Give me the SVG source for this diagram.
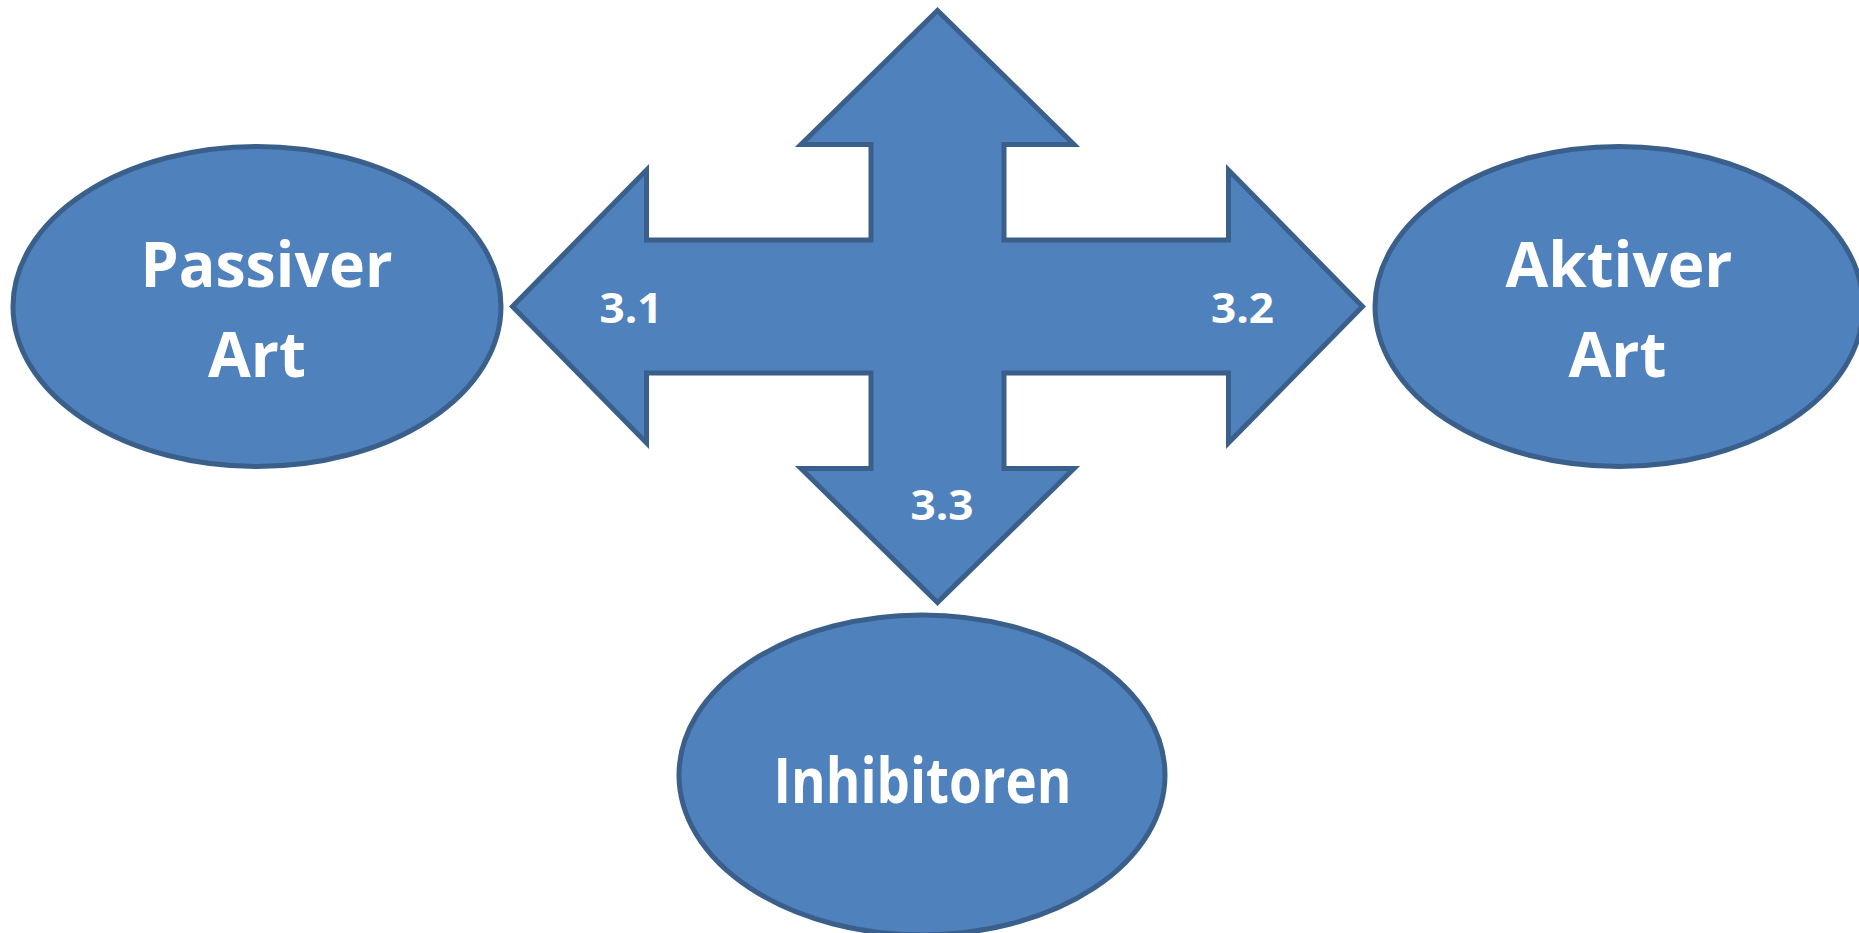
<svg xmlns="http://www.w3.org/2000/svg" width="1859" height="933" viewBox="0 0 1859 933">
  <style>
    .shape { fill: #4F81BD; stroke: #3A5F8B; stroke-width: 5; stroke-linejoin: miter; }
    .big { font-family: "Open Sans", "Noto Sans", "Liberation Sans", sans-serif; font-weight: bold; font-size: 62px; fill: #FFFFFF; }
    .num { font-family: "Open Sans", "Noto Sans", "Liberation Sans", sans-serif; font-weight: bold; font-size: 42px; fill: #FFFFFF; }
  </style>
  <rect width="1859" height="933" fill="#FFFFFF"/>
  <g id="connectors">
    <path class="shape" d="M937.5,10.5 L1074,144.5 L1004,144.5 L1004,240 L1228.5,240 L1228.5,170 L1362.5,306.5 L1228.5,443 L1228.5,373 L1004,373 L1004,468.5 L1074,468.5 L937.5,602.5 L801,468.5 L871,468.5 L871,373 L646.5,373 L646.5,443 L512.5,306.5 L646.5,170 L646.5,240 L871,240 L871,144.5 L801,144.5 Z"/>
    <text class="num" x="599.5" y="323" textLength="63" lengthAdjust="spacingAndGlyphs">3.1</text>
    <text class="num" x="1211" y="323" textLength="63" lengthAdjust="spacingAndGlyphs">3.2</text>
    <text class="num" x="910.5" y="520" textLength="63" lengthAdjust="spacingAndGlyphs">3.3</text>
  </g>
  <g id="node-passiver">
    <ellipse class="shape" cx="257" cy="306.5" rx="244" ry="160"/>
    <text class="big" x="140.5" y="286.7" textLength="252" lengthAdjust="spacingAndGlyphs">Passiver</text>
    <text class="big" x="208" y="376.7" textLength="98" lengthAdjust="spacingAndGlyphs">Art</text>
  </g>
  <g id="node-aktiver">
    <ellipse class="shape" cx="1619" cy="306.5" rx="244" ry="160"/>
    <text class="big" x="1505.5" y="286.7" textLength="227" lengthAdjust="spacingAndGlyphs">Aktiver</text>
    <text class="big" x="1568.5" y="376.7" textLength="98" lengthAdjust="spacingAndGlyphs">Art</text>
  </g>
  <g id="node-inhibitoren">
    <ellipse class="shape" cx="922" cy="775" rx="243" ry="160"/>
    <text class="big" x="773.5" y="803" textLength="298" lengthAdjust="spacingAndGlyphs">Inhibitoren</text>
  </g>
</svg>
